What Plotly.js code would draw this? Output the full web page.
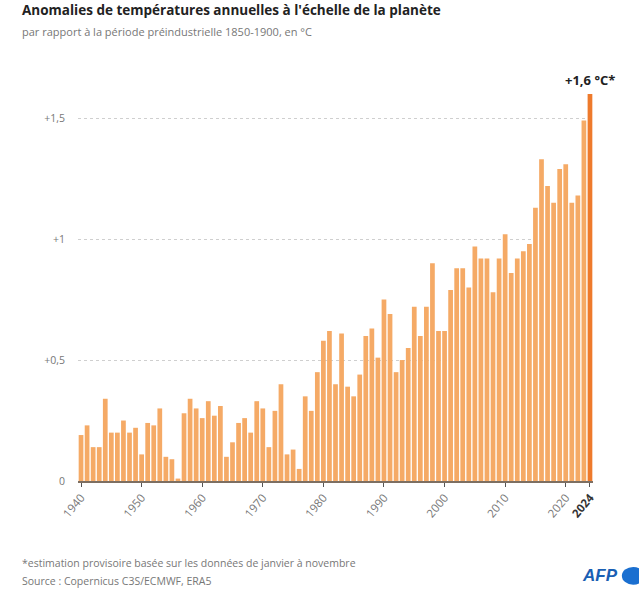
<!DOCTYPE html>
<html>
<head>
<meta charset="utf-8">
<script src="https://cdn.plot.ly/plotly-3.0.1.min.js"></script>
<style>
html,body{margin:0;padding:0;background:#fff;}
#chart{width:639px;height:596px;}
</style>
</head>
<body>
<div id="chart"></div>
<script>
const years = [1940,1941,1942,1943,1944,1945,1946,1947,1948,1949,
1950,1951,1952,1953,1954,1955,1956,1957,1958,1959,
1960,1961,1962,1963,1964,1965,1966,1967,1968,1969,
1970,1971,1972,1973,1974,1975,1976,1977,1978,1979,
1980,1981,1982,1983,1984,1985,1986,1987,1988,1989,
1990,1991,1992,1993,1994,1995,1996,1997,1998,1999,
2000,2001,2002,2003,2004,2005,2006,2007,2008,2009,
2010,2011,2012,2013,2014,2015,2016,2017,2018,2019,
2020,2021,2022,2023,2024];
const anomalies = [0.19,0.23,0.14,0.14,0.34,0.20,0.20,0.25,0.20,0.22,
0.11,0.24,0.23,0.30,0.10,0.09,0.01,0.28,0.34,0.30,
0.26,0.33,0.27,0.31,0.10,0.16,0.24,0.26,0.20,0.33,
0.30,0.14,0.29,0.40,0.11,0.13,0.05,0.35,0.29,0.45,
0.58,0.62,0.40,0.61,0.39,0.35,0.44,0.60,0.63,0.51,
0.75,0.69,0.45,0.50,0.55,0.72,0.60,0.72,0.90,0.62,
0.62,0.79,0.88,0.88,0.80,0.97,0.92,0.92,0.78,0.92,
1.02,0.86,0.92,0.95,0.98,1.13,1.33,1.22,1.15,1.29,
1.31,1.15,1.18,1.49,1.60];
const highlightYear = 2024;
const xTickVals = [1940,1950,1960,1970,1980,1990,2000,2010,2020,2024];
const xTickText = ['1940','1950','1960','1970','1980','1990','2000','2010','2020','<b style="color:#333">2024</b>'];
const yTickVals = [0,0.5,1,1.5];
const yTickText = ['0','+0,5','+1','+1,5'];
const peakLabel = '+1,6 °C*';

const barColors = years.map(y => y === highlightYear ? '#ee7a2c' : '#f5aa66');

const trace = {
  type: 'bar',
  x: years,
  y: anomalies,
  marker: {color: barColors, line: {width: 0}},
  hoverinfo: 'x+y'
};

const layout = {
  width: 639, height: 596,
  margin: {l: 78, r: 46, t: 94, b: 115},
  paper_bgcolor: '#fff', plot_bgcolor: '#fff',
  font: {family: 'Open Sans, sans-serif', color: '#444'},
  bargap: 0.22,
  showlegend: false,
  xaxis: {
    range: [1939.5, 2024.5],
    tickvals: xTickVals, ticktext: xTickText,
    tickangle: -50,
    tickfont: {size: 11.5, color: '#777'},
    ticks: 'outside', ticklen: 4, tickcolor: '#555', tickwidth: 1,
    showline: true, linecolor: '#7d6f62', linewidth: 1.5,
    showgrid: false, zeroline: false
  },
  yaxis: {
    range: [0, 1.6],
    tickvals: yTickVals, ticktext: yTickText,
    tickfont: {size: 10.5, color: '#777'},
    showgrid: true, gridcolor: '#cfcfcf', griddash: 'dot', gridwidth: 1,
    zeroline: false, showline: false, ticks: '',
    ticklabelstandoff: 12
  },
  annotations: [
    {text: '<b>Anomalies de températures annuelles à l\'échelle de la planète</b>',
     xref: 'paper', yref: 'paper', x: -0.112, y: 1.218, xanchor: 'left', yanchor: 'middle',
     showarrow: false, font: {size: 13.5, color: '#222'}},
    {text: 'par rapport à la période préindustrielle 1850-1900, en °C',
     xref: 'paper', yref: 'paper', x: -0.112, y: 1.161, xanchor: 'left', yanchor: 'middle',
     showarrow: false, font: {size: 11, color: '#777'}},
    {text: '<b>' + peakLabel + '</b>',
     xref: 'x', yref: 'y', x: highlightYear, y: anomalies[anomalies.length-1],
     xanchor: 'center', yanchor: 'bottom', yshift: 3,
     showarrow: false, font: {size: 13, color: '#222'}},
    {text: '*estimation provisoire basée sur les données de janvier à novembre',
     xref: 'paper', yref: 'paper', x: -0.112, y: -0.212, xanchor: 'left', yanchor: 'middle',
     showarrow: false, font: {size: 10.5, color: '#777'}},
    {text: 'Source : Copernicus C3S/ECMWF, ERA5',
     xref: 'paper', yref: 'paper', x: -0.112, y: -0.258, xanchor: 'left', yanchor: 'middle',
     showarrow: false, font: {size: 10.5, color: '#777'}},
    {text: '<b><i>AFP</i></b>',
     xref: 'paper', yref: 'paper', x: 1.052, y: -0.245, xanchor: 'right', yanchor: 'middle',
     showarrow: false, font: {size: 17, color: '#1a5fb4', family: 'Liberation Sans, Arial, sans-serif'}}
  ],
  shapes: [
    {type: 'circle', xref: 'paper', yref: 'paper', x0: 1.056, x1: 1.1, y0: -0.268, y1: -0.222,
     fillcolor: '#1a6fd0', line: {width: 0}}
  ]
};

Plotly.newPlot('chart', [trace], layout, {displayModeBar: false, staticPlot: true});
</script>
</body>
</html>
